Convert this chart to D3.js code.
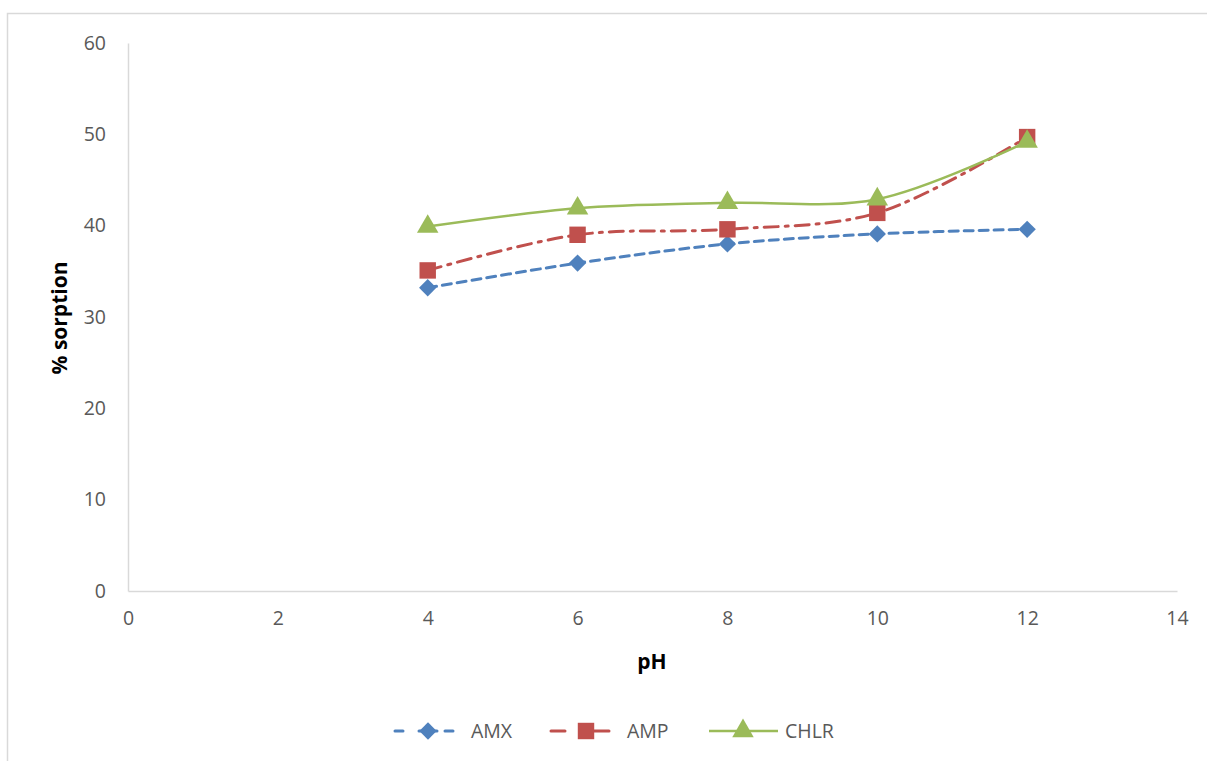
<!DOCTYPE html>
<html>
<head>
<meta charset="utf-8">
<script src="https://cdn.jsdelivr.net/npm/d3@7"></script>
<style>
  html, body { margin: 0; padding: 0; background: #fff; }
  svg { display: block; }
</style>
</head>
<body>
<svg id="chart" width="1207" height="761"></svg>
<script>
// pH values at which sorption was measured
const phValues = [4, 6, 8, 10, 12];
// % sorption for each antibiotic
const amx = [33.2, 35.9, 38.0, 39.1, 39.6];
const amp = [35.1, 39.0, 39.6, 41.4, 49.7];
const chlr = [39.9, 41.9, 42.5, 42.9, 49.2];
const seriesNames = ["AMX", "AMP", "CHLR"];
const xTicks = [0, 2, 4, 6, 8, 10, 12, 14];
const yTicks = [0, 10, 20, 30, 40, 50, 60];

const svg = d3.select("#chart");
const fontFamily = "'Open Sans', 'Noto Sans', sans-serif";

// outer chart frame (only top and left edges fall inside the view)
svg.append("rect")
  .attr("x", 7.5).attr("y", 13.5)
  .attr("width", 1260).attr("height", 800)
  .attr("fill", "none").attr("stroke", "#d9d9d9").attr("stroke-width", 1.5);

const x = d3.scaleLinear().domain([0, 14]).range([128, 1177]);
const y = d3.scaleLinear().domain([0, 60]).range([591, 43]);

// axes
const xAxis = svg.append("g").attr("transform", `translate(0,${y(0)})`)
  .call(d3.axisBottom(x).tickValues(xTicks).tickSize(0).tickPadding(20));
const yAxis = svg.append("g").attr("transform", `translate(${x(0)},0)`)
  .call(d3.axisLeft(y).tickValues(yTicks).tickSize(0).tickPadding(22));
[xAxis, yAxis].forEach(g => {
  g.select(".domain").attr("stroke", "#d9d9d9").attr("stroke-width", 1.5);
  g.selectAll("text").attr("fill", "#595959").attr("font-size", 19.5).attr("font-family", fontFamily);
});

// axis titles
svg.append("text")
  .attr("x", 652).attr("y", 669)
  .attr("text-anchor", "middle")
  .attr("font-family", fontFamily).attr("font-size", 21).attr("font-weight", "bold")
  .attr("fill", "#000").text("pH");
svg.append("text")
  .attr("transform", `translate(67,318) rotate(-90)`)
  .attr("text-anchor", "middle")
  .attr("font-family", fontFamily).attr("font-size", 21).attr("font-weight", "bold")
  .attr("fill", "#000").text("% sorption");

const styles = [
  { color: "#4f81bd", dash: "9,6", width: 3, symbol: d3.symbolSquare, rot: 45, size: 150, data: amx },
  { color: "#c0504d", dash: "14,7,3,7", width: 3, symbol: d3.symbolSquare, rot: 0, size: 270, data: amp },
  { color: "#9bbb59", dash: null, width: 2.5, symbol: d3.symbolTriangle, rot: 0, size: 200, data: chlr }
];

const line = d3.line()
  .x((d, i) => x(phValues[i]))
  .y(d => y(d))
  .curve(d3.curveCatmullRom.alpha(0.5));

styles.forEach(s => {
  svg.append("path")
    .attr("d", line(s.data))
    .attr("fill", "none")
    .attr("stroke", s.color)
    .attr("stroke-width", s.width)
    .attr("stroke-linecap", "round")
    .attr("stroke-dasharray", s.dash);
});

// markers drawn on top of all lines
styles.forEach(s => {
  svg.append("g").selectAll("path")
    .data(s.data)
    .join("path")
    .attr("transform", (d, i) => `translate(${x(phValues[i])},${y(d)}) rotate(${s.rot})`)
    .attr("d", d3.symbol().type(s.symbol).size(s.size))
    .attr("fill", s.color);
});

// legend: sample line segments, marker and series name
const legendX = [395, 551, 709];
const legendY = 731;
const legendSegs = [
  [[0, 8], [24, 42], [50, 58]],
  [[0, 14], [35, 58]],
  [[0, 69]]
];
const legendMarkerX = [33, 35, 34];
styles.forEach((s, i) => {
  const g = svg.append("g").attr("transform", `translate(${legendX[i]},${legendY})`);
  legendSegs[i].forEach(([a, b]) => {
    g.append("line").attr("x1", a).attr("x2", b)
      .attr("stroke", s.color).attr("stroke-width", s.width)
      .attr("stroke-linecap", s.dash ? "round" : "butt");
  });
  g.append("path")
    .attr("transform", `translate(${legendMarkerX[i]},0) rotate(${s.rot})`)
    .attr("d", d3.symbol().type(s.symbol).size(s.size))
    .attr("fill", s.color);
  g.append("text")
    .attr("x", 76)
    .attr("y", 7)
    .attr("font-family", fontFamily).attr("font-size", 19.5)
    .attr("fill", "#595959")
    .text(seriesNames[i]);
});
</script>
</body>
</html>
